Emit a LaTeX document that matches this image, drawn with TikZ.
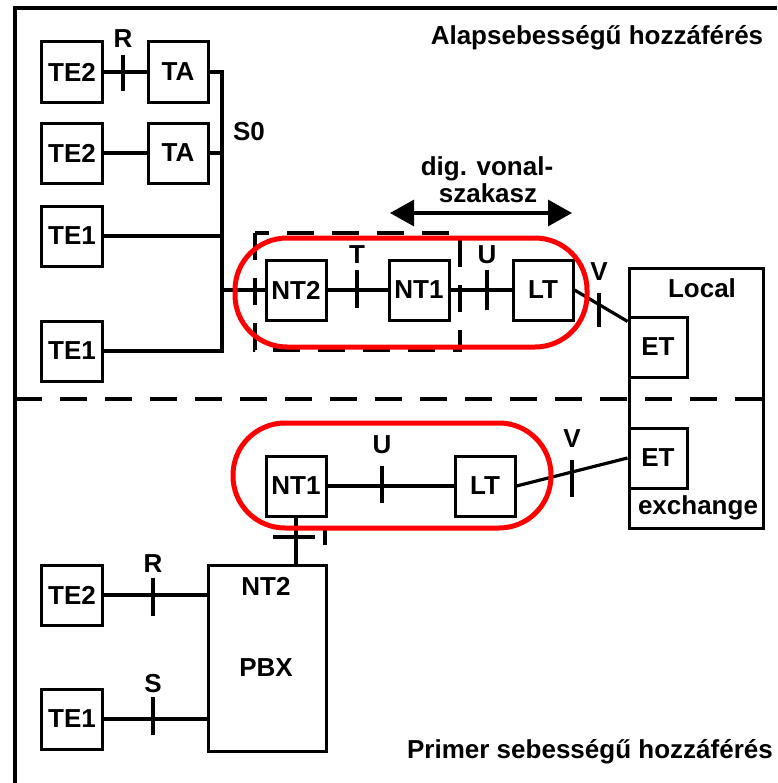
\documentclass[tikz,border=0pt]{standalone}
\usepackage{fontspec}
\setmainfont{Liberation Sans}
\usetikzlibrary{arrows.meta}

\begin{document}
\begin{tikzpicture}[x=0.25mm, y=-0.25mm,
    font=\fontsize{18.5}{22}\selectfont\bfseries,
    box/.style={rectangle, draw, line width=0.75mm, minimum width=15mm, minimum height=15mm, inner sep=0pt},
    line/.style={line width=0.8mm},
    ref/.style={line width=0.8mm},
    lbl/.style={anchor=base, inner sep=0pt},
    ring/.style={draw=red, line width=1.25mm, rounded corners=13mm},
    sep/.style={line width=0.8mm, dash pattern=on 6.75mm off 4.5mm}
]
\useasboundingbox (0,0) rectangle (777,783);

% Keret
\draw[line] (777,8) -- (15,8) -- (15,783);
\draw[sep] (15,399) -- (777,399);
\node[lbl] at (597,45) {Alapsebességű hozzáférés};
\node[lbl] at (590,758) {Primer sebességű hozzáférés};

% Alapsebességű hozzáférés
\node[box] (te2a) at (72,72) {TE2};
\node[box] (ta1) at (178,72) {TA};
\node[box] (te2b) at (72,153) {TE2};
\node[box] (ta2) at (178,153) {TA};
\node[box] (te1a) at (72,236) {TE1};
\node[box] (te1b) at (72,351) {TE1};
\node[box] (nt2) at (296,290) {NT2};
\node[box] (nt1a) at (419,290) {NT1};
\node[box] (lta) at (543,290) {LT};
\coordinate (bust) at (222,72);
\coordinate (busb) at (222,351);

\draw[line] (te2a) -- (ta1);
\draw[line] (te2b) -- (ta2);
\draw[line] (ta1.east) -- (bust) -- (busb) -- (te1b.east);
\draw[line] (ta2.east) -- (ta2.east -| bust);
\draw[line] (te1a.east) -- (te1a.east -| bust);
\draw[line] (nt2.west -| bust) -- (nt2.west);
\draw[line] (nt2) -- (nt1a);
\draw[line] (nt1a) -- (lta);

\node[lbl] at (123,47) {R};
\draw[ref] (123,55) -- (123,91);
\node[lbl] at (249,140) {S0};
\node[lbl] at (357,263) {T};
\draw[ref] (357,270) -- (357,308);
\node[lbl] at (487,263) {U};
\draw[ref] (487,270) -- (487,310);
\node[lbl] at (599,280) {V};
\draw[ref] (599,293) -- (599,327);

% dig. vonalszakasz
\node[lbl] at (487,175) {dig. vonal-};
\node[lbl] at (488,202) {szakasz};
\coordinate (dl) at (390,213);
\coordinate (dr) at (572,213);
\draw[line, {Triangle[length=6mm,width=6.5mm]}-{Triangle[length=6mm,width=6.5mm]}] (dl) -- (dr);

\draw[sep] (255,233) rectangle (460,350);

% Local exchange
\node[draw, line width=0.75mm, minimum width=33.5mm, minimum height=65mm] (lex) at (696,398) {};
\node[lbl] at (702,297) {Local};
\node[lbl] at (698,514) {exchange};
\node[box, minimum width=14.5mm] (eta) at (658,347) {ET};
\node[box, minimum width=14.5mm] (etb) at (658,458) {ET};
\draw[line] (lta.east) -- (eta.140);

% Primer sebességű hozzáférés
\node[box] (nt1b) at (296,486) {NT1};
\node[box] (ltb) at (485,486) {LT};
\node[draw, line width=0.75mm, minimum width=29.5mm, minimum height=46.5mm] (pbx) at (267,658) {};
\node[lbl] at (266,595) {NT2};
\node[lbl] at (266,676) {PBX};
\node[box] (te2c) at (72,595) {TE2};
\node[box] (te1c) at (72,719) {TE1};

\draw[line] (nt1b) -- (ltb);
\draw[line] (ltb.east) -- (etb.west);
\draw[line] (nt1b.south) -- (nt1b.south |- pbx.north);
\draw[line] (te2c) -- (te2c -| pbx.west);
\draw[line] (te1c) -- (te1c -| pbx.west);

\node[lbl] at (382,453) {U};
\draw[ref] (382,466) -- (382,503);
\node[lbl] at (572,447) {V};
\draw[ref] (572,460) -- (572,497);
\node[lbl] at (153,572) {R};
\draw[ref] (153,578) -- (153,616);
\node[lbl] at (153,692) {S};
\draw[ref] (153,697) -- (153,735);
\draw[ref] (273,537) -- (315,537);
\draw[ref] (325,530) -- (325,545);

% Piros keretek
\draw[ring] (235,238) rectangle (587,347);
\draw[ring] (233,423) rectangle (551,528);

\end{tikzpicture}
\end{document}
